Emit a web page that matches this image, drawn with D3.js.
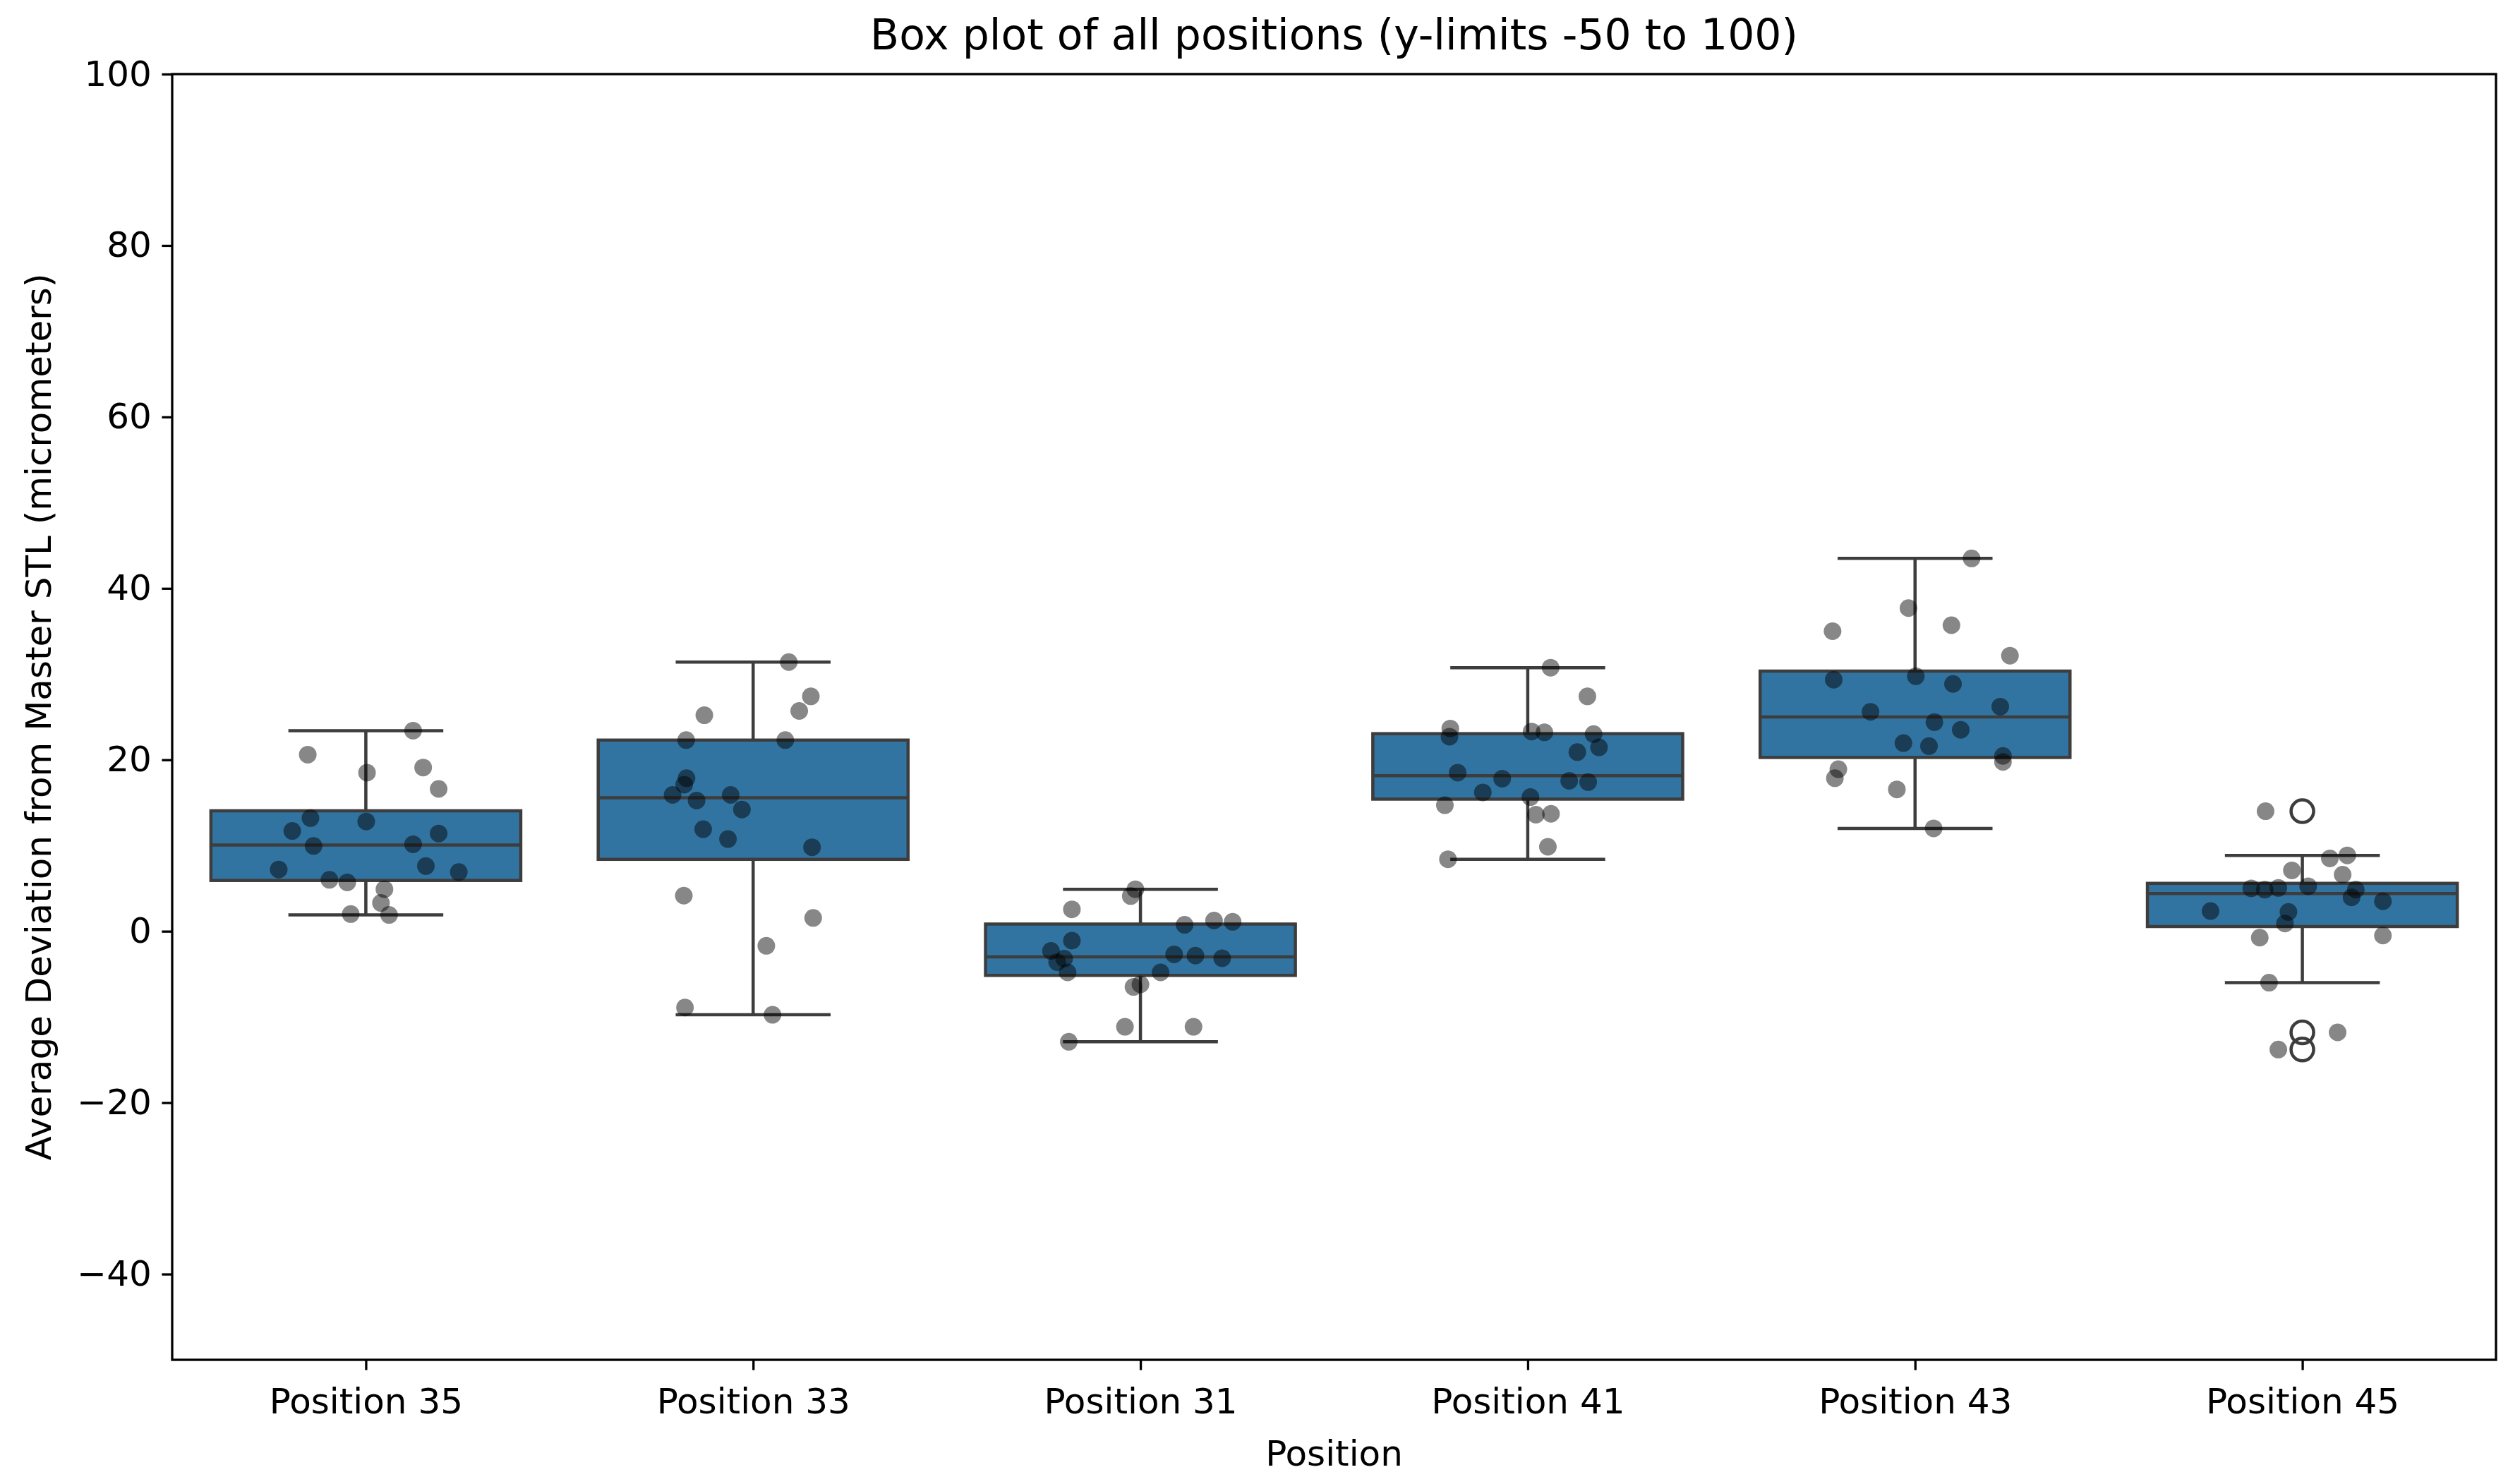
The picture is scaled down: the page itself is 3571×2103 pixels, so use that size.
<!DOCTYPE html>
<html>
<head>
<meta charset="utf-8">
<script src="https://cdn.jsdelivr.net/npm/d3@7"></script>
<style>
  body { margin: 0; background: #fff; }
  text { font-family: "DejaVu Sans", sans-serif; fill: #000; }
</style>
</head>
<body>
<div id="chart"></div>
<script>
// categories in plotting order
const categories = ["Position 35", "Position 33", "Position 31", "Position 41", "Position 43", "Position 45"];

// deviation values (micrometers), one array per position
const dev35 = [23.4, 20.6, 18.5, 19.1, 16.6, 13.2, 11.7, 9.95, 12.8, 10.15, 11.4, 7.2, 7.6, 6.9, 6.0, 5.7, 4.9, 3.3, 2.0, 1.9];
const dev33 = [31.4, 27.4, 25.7, 25.2, 22.3, 22.3, 17.85, 17.1, 15.9, 15.25, 15.9, 14.2, 11.9, 10.75, 9.8, 4.15, 1.55, -1.7, -8.9, -9.75];
const dev31 = [4.9, 4.1, 2.55, 0.75, 1.25, 1.1, -1.1, -2.3, -3.2, -3.6, -4.8, -2.7, -2.85, -3.15, -4.8, -6.2, -6.5, -11.15, -11.15, -12.9];
const dev41 = [30.75, 27.4, 23.65, 22.7, 23.3, 23.2, 23.0, 21.45, 20.9, 18.5, 17.8, 17.55, 17.4, 16.2, 15.65, 14.7, 13.6, 13.7, 9.85, 8.4];
const dev43 = [43.5, 37.7, 35.7, 35.0, 32.15, 29.35, 29.75, 28.85, 26.2, 25.6, 24.4, 23.5, 21.95, 21.6, 20.45, 19.75, 18.9, 17.85, 16.55, 12.0];
const dev45 = [14.0, 8.5, 8.85, 7.1, 6.6, 5.0, 4.85, 5.05, 5.25, 4.85, 3.95, 3.5, 2.35, 2.25, 0.9, -0.75, -0.5, -6.0, -11.8, -13.8];

// horizontal strip jitter of each point, in category units
const jit35 = [0.122, -0.150, 0.003, 0.148, 0.188, -0.143, -0.190, -0.135, 0.001, 0.122, 0.188, -0.225, 0.155, 0.240, -0.094, -0.048, 0.048, 0.039, -0.039, 0.060];
const jit33 = [0.092, 0.149, 0.119, -0.126, -0.173, 0.083, -0.172, -0.178, -0.208, -0.146, -0.058, -0.029, -0.129, -0.065, 0.152, -0.179, 0.155, 0.034, -0.176, 0.050];
const jit31 = [-0.013, -0.025, -0.177, 0.114, 0.190, 0.238, -0.177, -0.231, -0.197, -0.215, -0.188, 0.087, 0.142, 0.211, 0.052, 0.000, -0.018, -0.040, 0.137, -0.185];
const jit41 = [0.059, 0.154, -0.200, -0.202, 0.010, 0.043, 0.170, 0.184, 0.128, -0.181, -0.066, 0.107, 0.156, -0.116, 0.007, -0.214, 0.021, 0.060, 0.052, -0.206];
const jit43 = [0.146, -0.017, 0.094, -0.213, 0.245, -0.210, 0.002, 0.098, 0.220, -0.115, 0.050, 0.118, -0.030, 0.036, 0.227, 0.227, -0.198, -0.207, -0.047, 0.048];
const jit45 = [-0.095, 0.071, 0.116, -0.027, 0.104, -0.132, -0.097, -0.062, 0.015, 0.138, 0.127, 0.208, -0.237, -0.036, -0.045, -0.110, 0.208, -0.086, 0.091, -0.062];

const yTicks = [-40, -20, 0, 20, 40, 60, 80, 100];
const yDomain = [-50, 100];

const values = [dev35, dev33, dev31, dev41, dev43, dev45];
const jitters = [jit35, jit33, jit31, jit41, jit43, jit45];

// figure size and margins
var W = 3571, H = 2103;
var margin = {top: 105, right: 34, bottom: 176, left: 244};
var width = W - margin.left - margin.right,
    height = H - margin.top - margin.bottom;

var boxColor = "#3274a1", lineColor = "#3d3d3d";
var lw = 4.5, spineW = 3.3, tickLen = 14.6, tickPad = 14.6;

var svg = d3.select("#chart")
  .append("svg")
    .attr("width", W)
    .attr("height", H)
  .append("g")
    .attr("transform", "translate(" + margin.left + "," + margin.top + ")");

var x = d3.scaleLinear()
  .domain([-0.5, categories.length - 0.5])
  .range([0, width]);

var y = d3.scaleLinear()
  .domain(yDomain)
  .range([height, 0]);

// axes
var yAxis = svg.append("g")
  .call(d3.axisLeft(y).tickValues(yTicks).tickSize(tickLen).tickPadding(tickPad).tickSizeOuter(0));
var xAxis = svg.append("g")
  .attr("transform", "translate(0," + height + ")")
  .call(d3.axisBottom(x).tickValues(d3.range(categories.length))
    .tickFormat(function(i) { return categories[i] })
    .tickSize(tickLen).tickPadding(tickPad + 11).tickSizeOuter(0));

[xAxis, yAxis].forEach(function(a) {
  a.select(".domain").remove();
  a.selectAll(".tick line").attr("stroke", "#000").attr("stroke-width", spineW);
  a.selectAll(".tick text").attr("font-size", 50).attr("font-family", "DejaVu Sans").attr("fill", "#000");
});

// box statistics, matplotlib style (1.5 IQR whiskers)
var stats = values.map(function(v, i) {
  var s = v.slice().sort(d3.ascending);
  var q1 = d3.quantile(s, 0.25), med = d3.quantile(s, 0.5), q3 = d3.quantile(s, 0.75);
  var iqr = q3 - q1;
  var inside = s.filter(function(d) { return d >= q1 - 1.5 * iqr && d <= q3 + 1.5 * iqr });
  return {
    i: i, q1: q1, med: med, q3: q3,
    lo: d3.min(inside), hi: d3.max(inside),
    fliers: s.filter(function(d) { return d < q1 - 1.5 * iqr || d > q3 + 1.5 * iqr })
  };
});

var boxW = 0.8, capW = 0.4;

var box = svg.selectAll(".box")
  .data(stats)
  .enter().append("g");

// whiskers
box.append("line")
  .attr("x1", function(d) { return x(d.i) }).attr("x2", function(d) { return x(d.i) })
  .attr("y1", function(d) { return y(d.q3) }).attr("y2", function(d) { return y(d.hi) })
  .attr("stroke", lineColor).attr("stroke-width", lw);
box.append("line")
  .attr("x1", function(d) { return x(d.i) }).attr("x2", function(d) { return x(d.i) })
  .attr("y1", function(d) { return y(d.q1) }).attr("y2", function(d) { return y(d.lo) })
  .attr("stroke", lineColor).attr("stroke-width", lw);
// caps
["hi", "lo"].forEach(function(k) {
  box.append("line")
    .attr("x1", function(d) { return x(d.i - capW / 2) }).attr("x2", function(d) { return x(d.i + capW / 2) })
    .attr("y1", function(d) { return y(d[k]) }).attr("y2", function(d) { return y(d[k]) })
    .attr("stroke", lineColor).attr("stroke-width", lw);
});
// box body
box.append("rect")
  .attr("x", function(d) { return x(d.i - boxW / 2) })
  .attr("width", x(boxW) - x(0))
  .attr("y", function(d) { return y(d.q3) })
  .attr("height", function(d) { return y(d.q1) - y(d.q3) })
  .attr("fill", boxColor)
  .attr("stroke", lineColor).attr("stroke-width", lw);
// median
box.append("line")
  .attr("x1", function(d) { return x(d.i - boxW / 2) }).attr("x2", function(d) { return x(d.i + boxW / 2) })
  .attr("y1", function(d) { return y(d.med) }).attr("y2", function(d) { return y(d.med) })
  .attr("stroke", lineColor).attr("stroke-width", lw);
// fliers
box.selectAll(".flier")
  .data(function(d) { return d.fliers.map(function(f) { return {i: d.i, v: f} }) })
  .enter().append("circle")
    .attr("cx", function(d) { return x(d.i) })
    .attr("cy", function(d) { return y(d.v) })
    .attr("r", 16)
    .attr("fill", "none")
    .attr("stroke", lineColor).attr("stroke-width", 4.5);

// strip points
var pts = [];
values.forEach(function(v, i) {
  v.forEach(function(d, j) { pts.push({i: i, v: d, j: jitters[i][j]}) });
});
svg.selectAll(".pt")
  .data(pts)
  .enter().append("circle")
    .attr("cx", function(d) { return x(d.i + d.j) })
    .attr("cy", function(d) { return y(d.v) })
    .attr("r", 12.5)
    .attr("fill", "#000")
    .attr("fill-opacity", 0.47);

// frame
svg.append("rect")
  .attr("width", width).attr("height", height)
  .attr("fill", "none").attr("stroke", "#000").attr("stroke-width", spineW);

// titles
svg.append("text")
  .attr("x", width / 2).attr("y", -35)
  .attr("text-anchor", "middle").attr("font-size", 60)
  .text("Box plot of all positions (y-limits -50 to 100)");

svg.append("text")
  .attr("x", width / 2).attr("y", height + 150)
  .attr("text-anchor", "middle").attr("font-size", 50)
  .text("Position");

svg.append("text")
  .attr("transform", "rotate(-90)")
  .attr("x", -height / 2).attr("y", 72 - margin.left)
  .attr("text-anchor", "middle").attr("font-size", 50)
  .text("Average Deviation from Master STL (micrometers)");
</script>
</body>
</html>
